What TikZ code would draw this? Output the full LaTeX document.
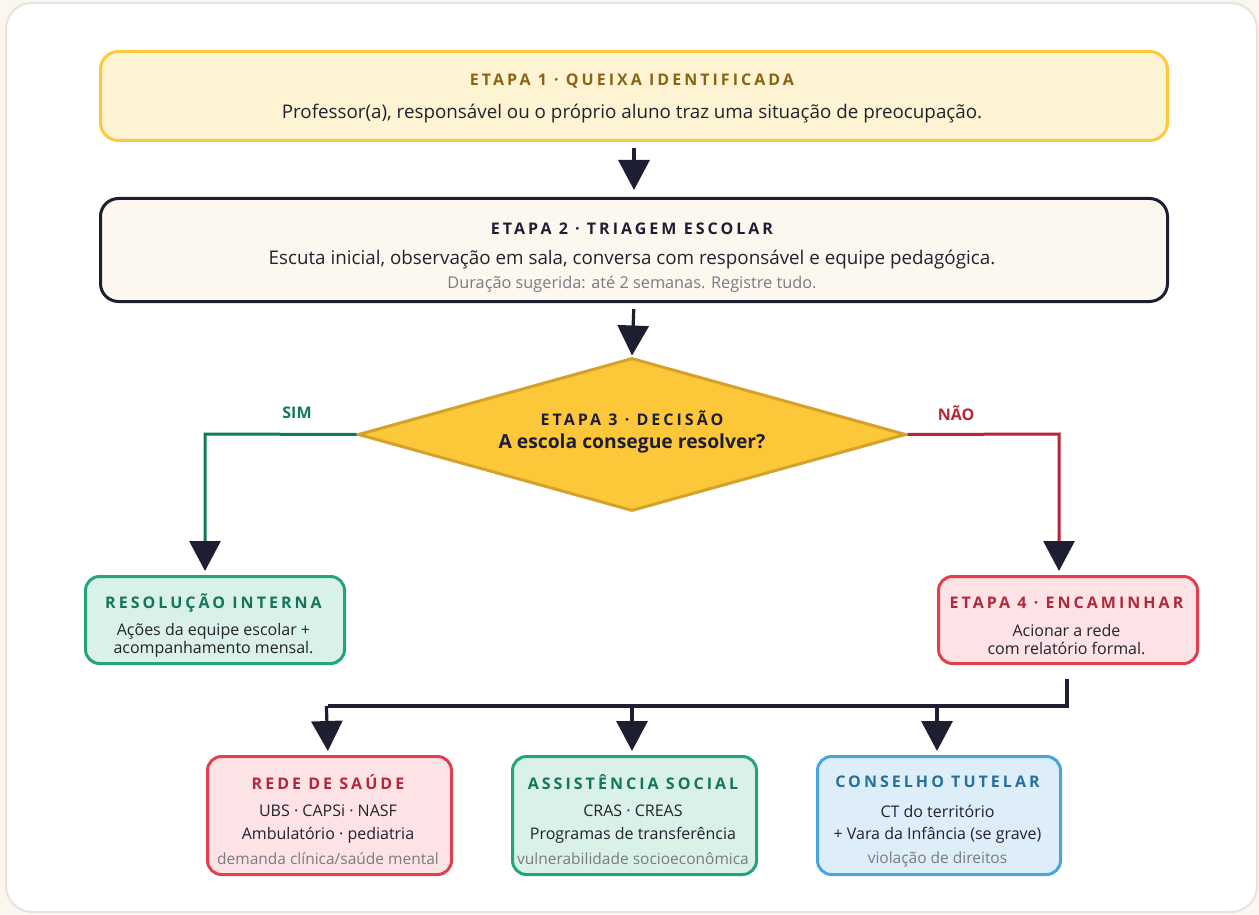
\documentclass[tikz,border=0pt]{standalone}
\usepackage{fontspec}
\setmainfont{Open Sans}
\newfontfamily\trackfont[LetterSpace=19]{Open Sans}
\usetikzlibrary{arrows.meta,shapes.geometric}
\definecolor{bgcream}{HTML}{FBF6EE}
\definecolor{cardborder}{HTML}{E3E3E8}
\definecolor{navy}{HTML}{1E1E32}
\definecolor{yelfill}{HTML}{FEF3D2}
\definecolor{yelborder}{HTML}{FCC83C}
\definecolor{yeltext}{HTML}{8A6410}
\definecolor{creamfill}{HTML}{FCF8F0}
\definecolor{diafill}{HTML}{FDC73A}
\definecolor{diaborder}{HTML}{D4A22A}
\definecolor{grnfill}{HTML}{D9F1E6}
\definecolor{grnborder}{HTML}{22A57B}
\definecolor{grntext}{HTML}{137657}
\definecolor{grnline}{HTML}{117A5B}
\definecolor{redfill}{HTML}{FDE3E6}
\definecolor{redborder}{HTML}{E3404F}
\definecolor{redtext}{HTML}{B3273A}
\definecolor{redline}{HTML}{B52638}
\definecolor{bluefill}{HTML}{DDEEF8}
\definecolor{blueborder}{HTML}{48A6DB}
\definecolor{bluetext}{HTML}{26709F}
\definecolor{bodytext}{HTML}{22222E}
\definecolor{graytext}{HTML}{7A7A82}
\tikzset{
  card/.style={draw, line width=3pt, rounded corners=18pt, inner sep=0pt, anchor=north west},
  ttl/.style={font=\trackfont\bfseries\fontsize{16}{19}\selectfont},
  body/.style={font=\fontsize{18.8}{22}\selectfont, text=bodytext},
  small/.style={font=\fontsize{16}{18}\selectfont, text=bodytext},
  note/.style={font=\fontsize{15.5}{18}\selectfont, text=graytext},
  conn/.style={line width=3.2pt, draw=navy, -{Triangle[length=30pt,width=31pt,color=navy]}},
  plain/.style={line width=3.2pt, draw=navy},
}
\begin{document}
\begin{tikzpicture}[x=1pt,y=-1pt]
\useasboundingbox (0,0) rectangle (1259,915);
\fill[bgcream] (0,0) rectangle (1259,915);
\draw[cardborder, fill=white, line width=2pt, rounded corners=26pt] (6,3) rectangle (1257,912);

% Etapa 1
\node[card, draw=yelborder, fill=yelfill, minimum width=1067pt, minimum height=89pt] (b1) at (99,50) {};
\node[ttl, text=yeltext] (b1t) at (632,81.5) {ETAPA 1 · QUEIXA IDENTIFICADA};
\node[body] (b1b) at (632,113.5) {Professor(a), responsável ou o próprio aluno traz uma situação de preocupação.};

% Etapa 2
\node[card, draw=navy, fill=creamfill, minimum width=1067pt, minimum height=103pt] (b2) at (99,197) {};
\node[ttl, text=navy] (b2t) at (632,228.5) {ETAPA 2 · TRIAGEM ESCOLAR};
\node[body] (b2b) at (632,260) {Escuta inicial, observação em sala, conversa com responsável e equipe pedagógica.};
\node[note, font=\fontsize{16.3}{19}\selectfont] (b2n) at (632,284.5) {Duração sugerida: até 2 semanas. Registre tudo.};

% Diamond
\node[diamond, draw=diaborder, fill=diafill, line width=3pt, minimum width=548pt, minimum height=153pt, inner sep=0pt] (d) at (632,434.5) {};
\node[ttl, text=navy] (dt) at (632,418) {ETAPA 3 · DECISÃO};
\node[font=\bfseries\fontsize{19.3}{22}\selectfont, text=navy] (dq) at (632,443) {A escola consegue resolver?};

% Resolução interna
\node[card, draw=grnborder, fill=grnfill, minimum width=259pt, minimum height=87pt, rounded corners=14pt] (ri) at (84,575) {};
\node[ttl, text=grntext] (rit) at (213.5,603) {RESOLUÇÃO INTERNA};
\node[small, align=center] (rib) at (213.5,640) {Ações da equipe escolar +\\acompanhamento mensal.};

% Etapa 4
\node[card, draw=redborder, fill=redfill, minimum width=259pt, minimum height=87pt, rounded corners=14pt] (e4) at (937,575) {};
\node[ttl, text=redtext] (e4t) at (1066.5,603) {ETAPA 4 · ENCAMINHAR};
\node[small, align=center] (e4b) at (1066.5,640) {Acionar a rede\\com relatório formal.};

% Bottom boxes
\node[card, draw=redborder, fill=redfill, minimum width=244pt, minimum height=118pt, rounded corners=14pt] (rs) at (206,755) {};
\node[ttl, text=redtext] (rst) at (328,782) {REDE DE SAÚDE};
\node[small] (rs1) at (328,811) {UBS · CAPSi · NASF};
\node[small] (rs2) at (328,835) {Ambulatório · pediatria};
\node[note] (rs3) at (328,859) {demanda clínica/saúde mental};

\node[card, draw=grnborder, fill=grnfill, minimum width=244pt, minimum height=118pt, rounded corners=14pt] (as) at (511,755) {};
\node[ttl, text=grntext] (ast) at (633,782) {ASSISTÊNCIA SOCIAL};
\node[small] (as1) at (633,811) {CRAS · CREAS};
\node[small] (as2) at (633,835) {Programas de transferência};
\node[note] (as3) at (633,859) {vulnerabilidade socioeconômica};

\node[card, draw=blueborder, fill=bluefill, minimum width=243pt, minimum height=118pt, rounded corners=14pt] (ct) at (816,755) {};
\node[ttl, text=bluetext] (ctt) at (937.5,782) {CONSELHO TUTELAR};
\node[small] (ct1) at (937.5,811) {CT do território};
\node[small] (ct2) at (937.5,835) {+ Vara da Infância (se grave)};
\node[note] (ct3) at (937.5,859) {violação de direitos};

% Connectors
\draw[conn, shorten <=6pt, shorten >=7pt] (b1.south) -- (b2.north);
\draw[conn, shorten <=6pt, shorten >=1pt] (b2.south) -- (d.north);

\coordinate (sl) at (205,434);
\coordinate (nr) at (1059,434);
\draw[line width=3pt, draw=grnline, -{Triangle[length=30pt,width=31pt,color=navy]}, shorten >=4pt] (d.west) -- (sl) -- (sl |- ri.north);
\draw[line width=3pt, draw=redline, -{Triangle[length=30pt,width=31pt,color=navy]}, shorten >=4pt] (d.east) -- (nr) -- (nr |- e4.north);
\node[font=\bfseries\fontsize{16}{19}\selectfont, text=grnline] (sim) at (297,413) {SIM};
\node[font=\bfseries\fontsize{16}{19}\selectfont, text=redline] (nao) at (956,413) {NÃO};

\coordinate (j) at (1067,706);
\coordinate (jl) at (328,706);
\draw[plain, shorten <=14pt] (e4.south -| j) -- (j) -- (jl);
\draw[conn, shorten >=4pt] ([xshift=-1.6pt]jl) -- (jl |- rs.north);
\draw[conn, shorten >=4pt] (632,706) coordinate (jm) -- (jm |- as.north);
\draw[conn, shorten >=4pt] (937,706) coordinate (jr) -- (jr |- ct.north);
\end{tikzpicture}
\end{document}
